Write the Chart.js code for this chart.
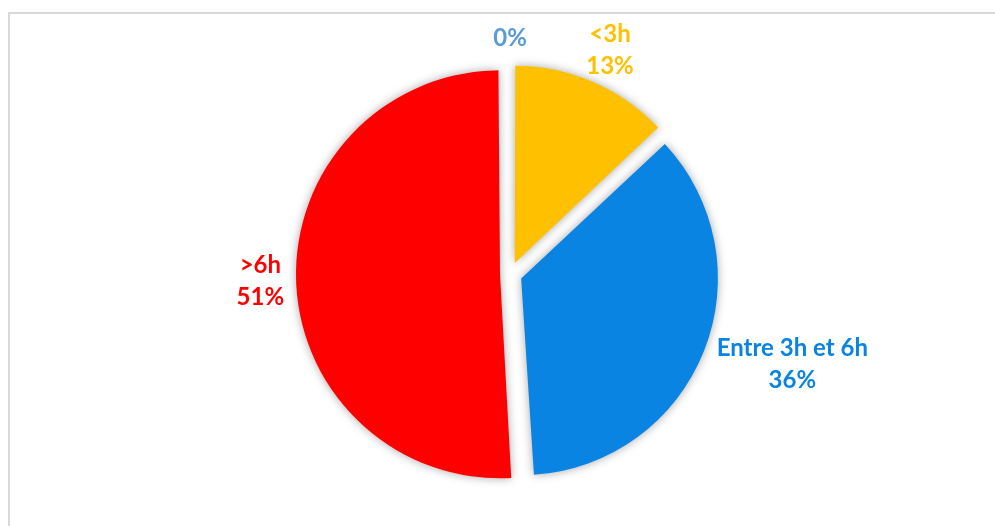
<!DOCTYPE html>
<html>
<head>
<meta charset="utf-8">
<script src="https://cdn.jsdelivr.net/npm/chart.js@4/dist/chart.umd.min.js"></script>
<style>
  html, body { margin: 0; padding: 0; background: #fff; }
  #wrap { position: relative; width: 995px; height: 526px; overflow: hidden; }
  #frame { position: absolute; left: 8px; top: 12px; width: 1100px; height: 600px; border: 2px solid #d9d9d9; }
  #pie { position: absolute; left: 0; top: 0; }
</style>
</head>
<body>
<div id="wrap">
  <div id="frame"></div>
  <canvas id="pie" width="995" height="526"></canvas>
</div>
<script>
// Time spent per day, share of respondents
const categories = ['', '<3h', 'Entre 3h et 6h', '>6h'];
const shares = [0, 13, 36, 51];
const sliceColors = ['#5B9BD5', '#FFC000', '#0984E3', '#FF0000'];
// pull-out of each slice (Chart.js moves a slice by offset / 4)
const sliceOffsets = [48, 48, 48, 40];

// soft drop shadow under the slices
const sliceShadow = {
    id: 'sliceShadow',
    beforeDatasetsDraw(chart) {
        const ctx = chart.ctx;
        ctx.save();
        ctx.shadowColor = 'rgba(0,0,0,0.35)';
        ctx.shadowBlur = 10;
    },
    afterDatasetsDraw(chart) {
        chart.ctx.restore();
    }
};

// category + percent written outside each slice
const outsideLabels = {
    id: 'outsideLabels',
    afterDatasetsDraw(chart, args, opts) {
        const ctx = chart.ctx;
        const meta = chart.getDatasetMeta(0);
        const total = shares.reduce((a, b) => a + b, 0);
        ctx.save();
        ctx.font = opts.font;
        ctx.textAlign = 'center';
        ctx.textBaseline = 'middle';
        meta.data.forEach((arc, i) => {
            const p = arc.getProps(['x', 'y', 'startAngle', 'endAngle', 'outerRadius'], true);
            const mid = (p.startAngle + p.endAngle) / 2;
            const shift = (arc.options.offset || 0) / 4;
            const pct = Math.round(shares[i] / total * 100) + '%';
            const lines = categories[i] ? [categories[i], pct] : [pct];
            const w = Math.max(...lines.map(l => ctx.measureText(l).width));
            const h = lines.length * opts.lineHeight;
            const d = p.outerRadius + shift + opts.gap;
            const cx = p.x + Math.cos(mid) * (d + w / 2);
            const cy = p.y + Math.sin(mid) * (d + h / 4);
            ctx.fillStyle = sliceColors[i];
            lines.forEach((l, k) => {
                ctx.fillText(l, cx, cy - h / 2 + opts.lineHeight * (k + 0.5));
            });
        });
        ctx.restore();
    }
};

new Chart(document.getElementById('pie'), {
    type: 'pie',
    data: {
        labels: categories,
        datasets: [{
            data: shares,
            backgroundColor: sliceColors,
            borderWidth: 0,
            offset: sliceOffsets
        }]
    },
    options: {
        responsive: false,
        animation: false,
        radius: 194,
        layout: { padding: { left: 25, top: 22 } },
        plugins: {
            legend: { display: false },
            tooltip: { enabled: false },
            outsideLabels: { font: 'bold 24px Lato', lineHeight: 32, gap: 22 }
        }
    },
    plugins: [sliceShadow, outsideLabels]
});
</script>
</body>
</html>
